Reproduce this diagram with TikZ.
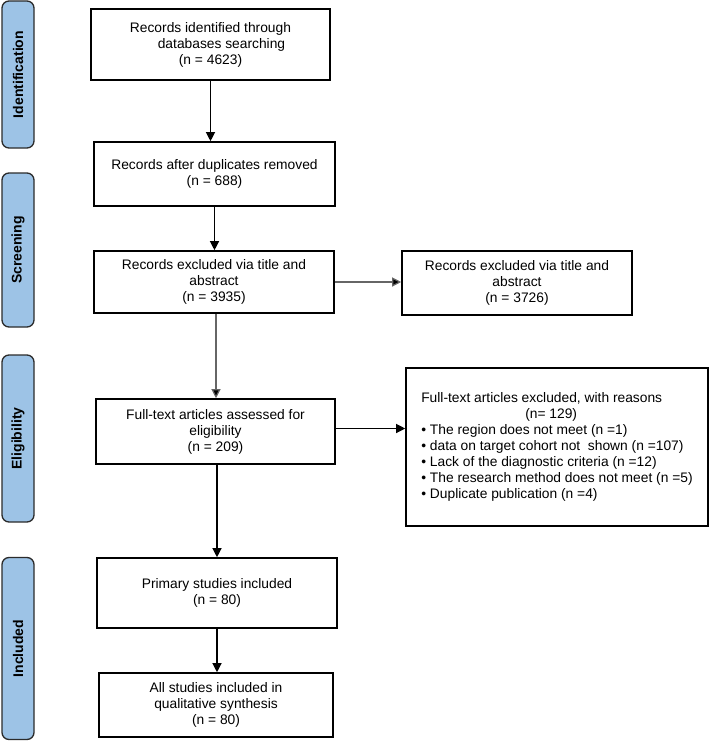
\documentclass[tikz,border=0pt]{standalone}
\usepackage{fontspec}
\setmainfont{Liberation Sans}
\usetikzlibrary{arrows.meta}
\definecolor{sidefill}{HTML}{9DC3E6}
\definecolor{sideline}{HTML}{2B2B2B}
\begin{document}
\begin{tikzpicture}[x=1pt,y=-1pt,
  flowbox/.style={draw=black,line width=1.6pt,fill=white,align=center,inner sep=2pt,
    font=\fontsize{13.8}{16}\selectfont},
  sidebar/.style={draw=sideline,line width=1.3pt,fill=sidefill,rounded corners=7pt,
    minimum width=32pt,inner sep=0pt},
  sidelabel/.style={rotate=90,font=\fontsize{14}{16}\selectfont\bfseries},
  arr/.style={draw=black,line width=1.2pt,-{Triangle[length=9pt,width=9pt]}},
  lin/.style={draw=black!60,line width=1.2pt,-{Triangle[length=9pt,width=9pt,fill=black]}}]
\useasboundingbox (0,0) rectangle (709,741);
% sidebars
\node[sidebar,minimum height=147pt] (s1) at (18,74.5) {};
\node[sidelabel] (t1) at (s1.center) {Identification};
\node[sidebar,minimum height=154pt] (s2) at (18,250) {};
\node[sidelabel] (t2) at (s2.center) {Screening};
\node[sidebar,minimum height=167pt] (s3) at (18,438.5) {};
\node[sidelabel] (t3) at (s3.center) {Eligibility};
\node[sidebar,minimum height=182pt] (s4) at (18,648.5) {};
\node[sidelabel] (t4) at (s4.center) {Included};
% boxes
\node[flowbox,minimum width=239pt,minimum height=71pt] (b1) at (210.5,44.5)
  {Records identified through\\ \hspace*{22pt}databases searching\\(n = 4623)};
\node[flowbox,minimum width=241pt,minimum height=64pt] (b2) at (214.5,174)
  {Records after duplicates removed\\(n = 688)};
\node[flowbox,minimum width=240pt,minimum height=62pt] (b3) at (214,282)
  {Records excluded via title and\\abstract\\(n = 3935)};
\node[flowbox,minimum width=230pt,minimum height=64pt] (b4) at (517,283)
  {Records excluded via title and\\abstract\\(n = 3726)};
\node[flowbox,minimum width=239pt,minimum height=65pt] (b5) at (215.5,431.5)
  {Full-text articles assessed for\\eligibility\\(n = 209)};
\node[flowbox,align=left,minimum width=302pt,minimum height=158pt] (b6) at (557,447)
  {Full-text articles excluded, with reasons\\
   \hspace*{104pt}(n= 129)\\
   • The region does not meet (n =1)\\
   • data on target cohort not\ \ shown (n =107)\\
   • Lack of the diagnostic criteria (n =12)\\
   • The research method does not meet (n =5)\\
   • Duplicate publication (n =4)};
\node[flowbox,minimum width=240pt,minimum height=70pt] (b7) at (217,593)
  {Primary studies included\\(n = 80)};
\node[flowbox,minimum width=234pt,minimum height=64pt] (b8) at (216,705)
  {All studies included in\\qualitative synthesis\\(n = 80)};
% connectors
\draw[arr] (b1.south) -- (b1.south |- b2.north);
\draw[arr] (b2.south) -- (b2.south |- b3.north);
\draw[lin] ([xshift=2pt]b3.south) -- ([xshift=2pt]b3.south |- b5.north);
\draw[lin] (b3.east) -- (b3.east -| b4.west);
\draw[arr] ([yshift=3pt]b5.east) -- ([yshift=3pt]b5.east -| b6.west);
\draw[arr] ([xshift=1.5pt]b5.south) -- ([xshift=1.5pt]b5.south |- b7.north);
\draw[arr] (b7.south) -- (b7.south |- b8.north);
\end{tikzpicture}
\end{document}
